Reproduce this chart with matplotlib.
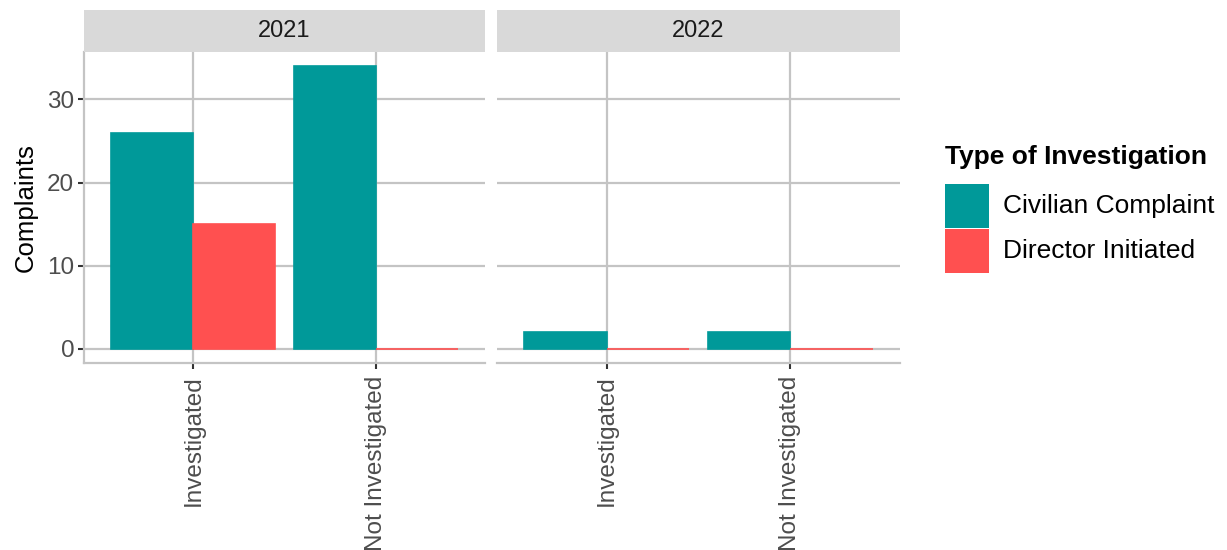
import matplotlib
matplotlib.use("Agg")
import matplotlib.pyplot as plt
from matplotlib.patches import Rectangle

plt.rcParams["font.family"] = ["Liberation Sans", "DejaVu Sans"]

YEARS = ["2021", "2022"]
CATEGORIES = ["Investigated", "Not Investigated"]
SERIES = ["Civilian Complaint", "Director Initiated"]
VALUES = {
    "2021": {"Civilian Complaint": [26, 34], "Director Initiated": [15, 0]},
    "2022": {"Civilian Complaint": [2, 2], "Director Initiated": [0, 0]},
}
Y_TICKS = [0, 10, 20, 30]

COLORS = {"Civilian Complaint": "#009999", "Director Initiated": "#FF5050"}
GRID = "#C4C4C4"; TICK = "#333333"; LAB = "#4D4D4D"; STRIP = "#D9D9D9"

W, H = 1227, 550
fig = plt.figure(figsize=(W / 100, H / 100), dpi=100)


def px_axes(x0, y0, x1, y1):
    return fig.add_axes([x0 / W, 1 - y1 / H, (x1 - x0) / W, (y1 - y0) / H])


panels = [(84, 485), (497, 900)]
ytop, ybot = 52, 363
ymax = max(max(v) for d in VALUES.values() for v in d.values())
ylim = (-0.05 * ymax, 1.05 * ymax)

for i, (yr, (x0, x1)) in enumerate(zip(YEARS, panels)):
    ax = px_axes(x0, ytop, x1, ybot)
    ax.set_facecolor("white")
    xs = range(len(CATEGORIES))
    for j, s in enumerate(SERIES):
        off = -0.225 if j == 0 else 0.225
        ax.bar([x + 1 + off for x in xs], VALUES[yr][s], width=0.45,
               color=COLORS[s], edgecolor=COLORS[s], linewidth=1.2, zorder=3)
    ax.set_xlim(0.4, 2.6)
    ax.set_ylim(*ylim)
    ax.set_xticks([1, 2])
    ax.set_xticklabels(CATEGORIES, rotation=90, fontsize=17.5, color=LAB)
    ax.set_yticks(Y_TICKS)
    ax.grid(True, color=GRID, lw=1.6, zorder=0)
    ax.set_axisbelow(True)
    for s in ("top", "right"):
        ax.spines[s].set_visible(False)
    ax.spines["bottom"].set_color(GRID)
    ax.spines["bottom"].set_linewidth(1.6)
    ax.spines["left"].set_color(GRID)
    ax.spines["left"].set_linewidth(1.6)
    ax.tick_params(axis="x", length=4, width=1.5, color=TICK, pad=5)
    if i == 0:
        ax.set_yticklabels([str(t) for t in Y_TICKS], fontsize=17.5, color=LAB)
        ax.tick_params(axis="y", length=4, width=1.5, color=TICK, pad=3)
        ax.set_ylabel("Complaints", fontsize=18.5, color="black", labelpad=7)
    else:
        ax.spines["left"].set_visible(False)
        ax.tick_params(axis="y", length=0, labelleft=False)

    sax = px_axes(x0, 10, x1, ytop)
    sax.set_facecolor(STRIP)
    sax.set_xticks([]); sax.set_yticks([])
    for sp in sax.spines.values():
        sp.set_visible(False)
    sax.text(0.5, 0.5, yr, ha="center", va="center", fontsize=17,
             color="#1A1A1A", transform=sax.transAxes)

# legend
lax = px_axes(930, 130, 1227, 290)
lax.set_xlim(930, 1227); lax.set_ylim(290, 130)
lax.axis("off")
lax.text(945, 157, "Type of Investigation", fontsize=19, fontweight="bold",
         va="center", ha="left")
for k, s in enumerate(SERIES):
    y = 184 + k * 45
    lax.add_patch(Rectangle((945, y), 44, 44, facecolor=COLORS[s], edgecolor="none"))
    lax.text(1003, y + 22, s, fontsize=19, va="center", ha="left")

fig.savefig("out.png", dpi=100)
